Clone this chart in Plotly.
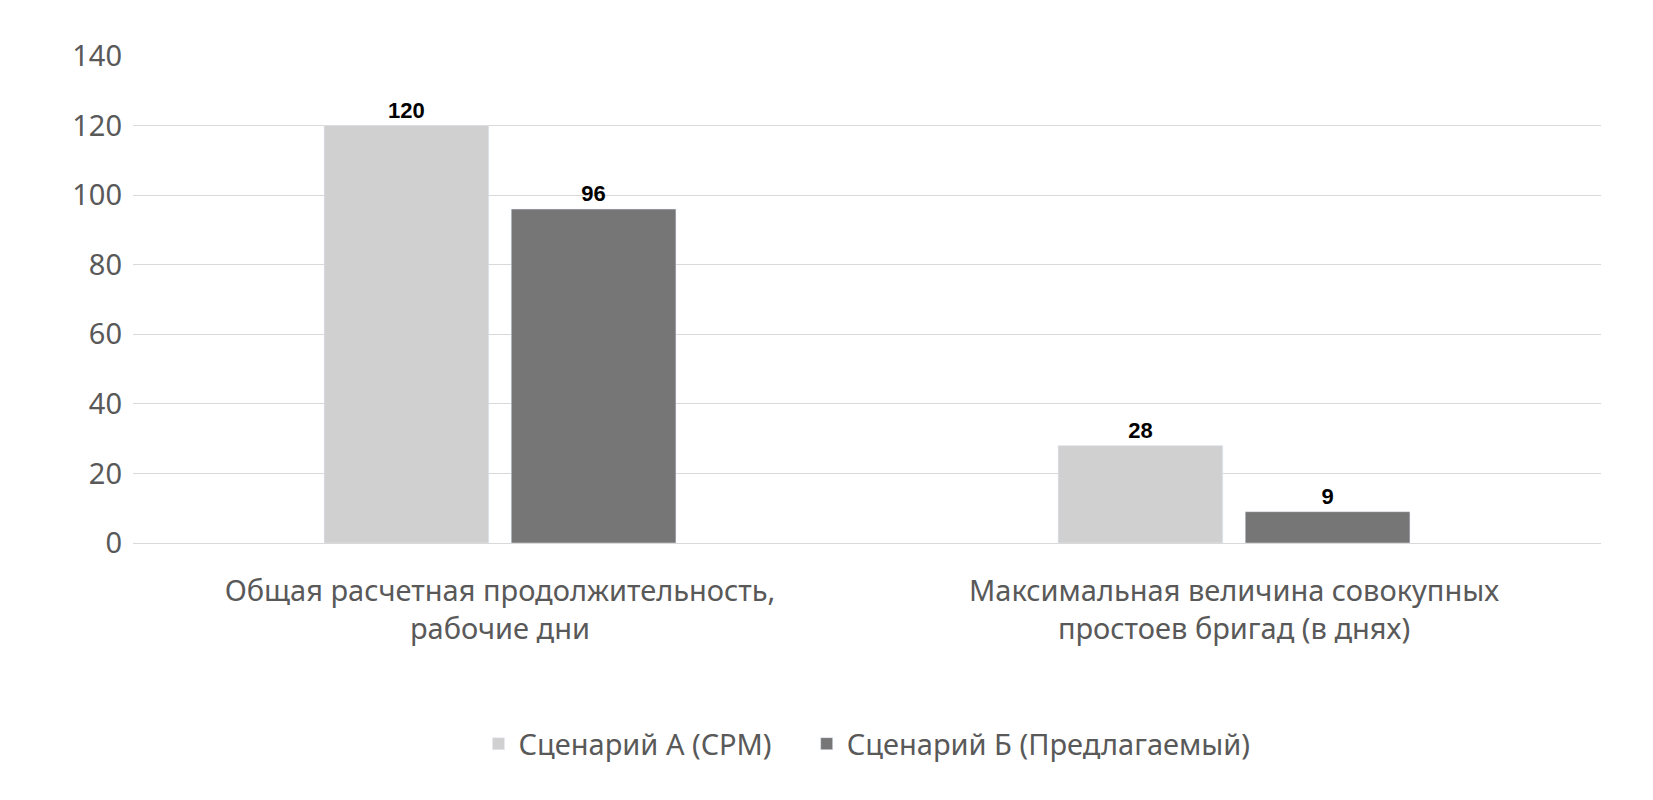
import plotly.graph_objects as go

categories = ["Общая расчетная продолжительность,<br>рабочие дни",
              "Максимальная величина совокупных<br>простоев бригад (в днях)"]
scenario_a = [120, 28]
scenario_b = [96, 9]

fig = go.Figure()
fig.add_trace(go.Bar(name="Сценарий А (CPM)    ", x=categories, y=scenario_a,
                     marker_color="#d0d0d0", text=scenario_a, textposition="outside",
                     textfont=dict(family="Arial", size=22, color="black", weight="bold"),
                     cliponaxis=False))
fig.add_trace(go.Bar(name="Сценарий Б (Предлагаемый)", x=categories, y=scenario_b,
                     marker_color="#767676", text=scenario_b, textposition="outside",
                     textfont=dict(family="Arial", size=22, color="black", weight="bold"),
                     cliponaxis=False))

fig.update_layout(
    width=1653, height=800,
    plot_bgcolor="white", paper_bgcolor="white",
    margin=dict(l=125, r=60, t=48, b=265),
    barmode="group", bargap=0.49, bargroupgap=0.12,
    font=dict(family="Noto Sans", size=29, color="#595959"),
    legend=dict(orientation="h", x=0.5, xanchor="center", y=-0.36, yanchor="top",
                font=dict(size=29, color="#595959"), itemwidth=30),
    xaxis=dict(showline=True, linecolor="#d9d9d9", tickfont=dict(size=29),
               ticklabelstandoff=22),
    yaxis=dict(range=[0, 140], dtick=20, gridcolor="#d9d9d9", zeroline=False,
               ticks="", tickfont=dict(size=29), ticklabelstandoff=10),
)

fig.write_html("out.html")
